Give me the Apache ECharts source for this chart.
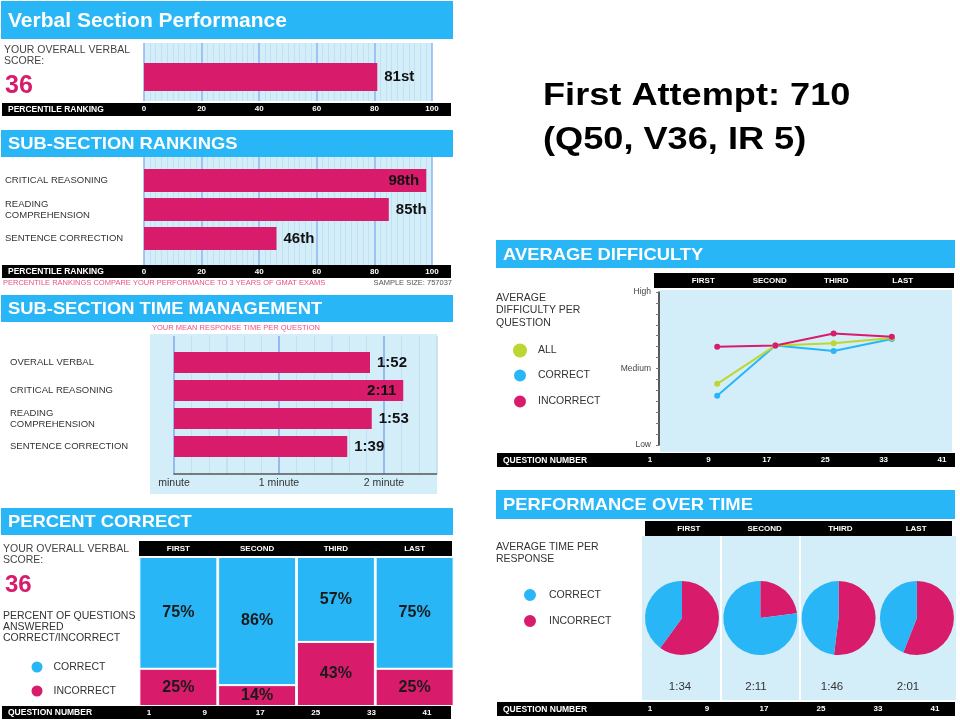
<!DOCTYPE html>
<html>
<head>
<meta charset="utf-8">
<script src="https://cdn.jsdelivr.net/npm/echarts@6/dist/echarts.min.js"></script>
<style>
  html, body { margin: 0; padding: 0; background: #fff; }
  #main { width: 960px; height: 720px; }
</style>
</head>
<body>
<div id="main"></div>
<script>
var PINK = '#d81b6a', BLUE = '#29b6f6', GREEN = '#bdd631', PALE = '#d4eef9';
var FONT = '"Liberation Sans", Arial, sans-serif';

// ---- data ----
var overallScore = 36;
var overallPercentile = [81];
var rankCategories = ['CRITICAL REASONING', 'READING\nCOMPREHENSION', 'SENTENCE CORRECTION'];
var rankPercentile = [98, 85, 46];
var timeCategories = ['OVERALL VERBAL', 'CRITICAL REASONING', 'READING\nCOMPREHENSION', 'SENTENCE CORRECTION'];
var timeSeconds = [112, 131, 113, 99];          // 1:52, 2:11, 1:53, 1:39
var timeAxisLabels = { 0: 'minute', 60: '1 minute', 120: '2 minute' };
var quarters = ['FIRST', 'SECOND', 'THIRD', 'LAST'];
var questionTicks = ['1', '9', '17', '25', '33', '41'];
var pctCorrect = [75, 86, 57, 75];
var pctIncorrect = [25, 14, 43, 25];
var diffAll = [5.6, 9.1, 9.3, 9.8];
var diffCorrect = [4.5, 9.1, 8.6, 9.7];
var diffIncorrect = [9.0, 9.1, 10.2, 9.9];
var diffLabels = { 0: 'Low', 7: 'Medium', 14: 'High' };
var timeShareCorrect = [40, 77, 48, 44];
var timeShareIncorrect = [60, 23, 52, 56];
var avgTime = [94, 131, 106, 121];               // 1:34, 2:11, 1:46, 2:01

function ordinal(n) {
  var m = n % 100;
  if (m >= 11 && m <= 13) return n + 'th';
  return n + ({ 1: 'st', 2: 'nd', 3: 'rd' }[n % 10] || 'th');
}
function mmss(s) {
  return Math.floor(s / 60) + ':' + ('0' + (s % 60)).slice(-2);
}

var chart = echarts.init(document.getElementById('main'));

// ---- graphic helpers (headers, strips, free text) ----
var g = [];
function rect(x, y, w, h, fill, z) {
  g.push({ type: 'rect', z: z == null ? -1 : z, shape: { x: x, y: y, width: w, height: h }, style: { fill: fill } });
}
function label(x, y, str, o) {
  o = o || {};
  g.push({
    type: 'text', x: x, y: y, z: 5, scaleX: o.sx || 1,
    style: {
      text: str, fill: o.color || '#333', fontSize: o.size || 10,
      fontWeight: o.bold ? 'bold' : 'normal', fontFamily: FONT,
      align: o.align || 'left', verticalAlign: o.va || 'middle', lineHeight: o.lh
    }
  });
}
function header(x, y, w, h, str, size, sx) {
  rect(x, y, w, h, BLUE);
  label(x + 7, y + h / 2 + 1, str, { size: size, color: '#fff', bold: true, sx: sx || 1.08 });
}
function strip(x, y, w, h, str) {
  rect(x, y, w, h, '#000');
  if (str) label(x + 6, y + h / 2 + 0.5, str, { size: 8.5, color: '#fff', bold: true });
}

// panel headers
header(1, 1, 452, 38, 'Verbal Section Performance', 20, 1.05);
header(1, 130, 452, 27, 'SUB-SECTION RANKINGS', 17);
header(1, 295, 452, 27, 'SUB-SECTION TIME MANAGEMENT', 17);
header(1, 508, 452, 27, 'PERCENT CORRECT', 17);
header(496, 240, 459, 28, 'AVERAGE DIFFICULTY', 17);
header(496, 490, 459, 29, 'PERFORMANCE OVER TIME', 17);

// black strips
strip(2, 103, 449, 13, 'PERCENTILE RANKING');
strip(2, 265, 449, 13, 'PERCENTILE RANKING');
strip(139, 541, 313, 15);
strip(2, 706, 449, 13, 'QUESTION NUMBER');
strip(654, 273, 300, 15);
strip(497, 453, 458, 14, 'QUESTION NUMBER');
strip(645, 521, 307, 15);
strip(497, 702, 458, 14, 'QUESTION NUMBER');

// plot backgrounds
rect(150, 334, 287, 160, PALE, -2);
rect(660, 290, 292, 162, PALE, -2);
rect(642, 536, 314, 164, PALE, -2);
rect(720, 536, 2, 164, '#fff', -1);
rect(799, 536, 2, 164, '#fff', -1);

// free text
label(4, 45, 'YOUR OVERALL VERBAL\nSCORE:', { size: 10.5, va: 'top', lh: 11, color: '#444' });
label(5, 86, String(overallScore), { size: 25, bold: true, color: PINK });
label(3, 283, 'PERCENTILE RANKINGS COMPARE YOUR PERFORMANCE TO 3 YEARS OF GMAT EXAMS', { size: 7.5, color: '#ec4d88' });
label(452, 283, 'SAMPLE SIZE: 757037', { size: 7.5, align: 'right', color: '#555' });
label(152, 328, 'YOUR MEAN RESPONSE TIME PER QUESTION', { size: 7.5, color: '#ec4d88' });
label(3, 544, 'YOUR OVERALL VERBAL\nSCORE:', { size: 10.5, va: 'top', lh: 11, color: '#444' });
label(5, 585, String(overallScore), { size: 24, bold: true, color: PINK });
label(3, 611, 'PERCENT OF QUESTIONS\nANSWERED\nCORRECT/INCORRECT', { size: 10.5, va: 'top', lh: 11, color: '#333' });
label(496, 292, 'AVERAGE\nDIFFICULTY PER\nQUESTION', { size: 10.5, va: 'top', lh: 12.3, color: '#333' });
label(496, 541, 'AVERAGE TIME PER\nRESPONSE', { size: 10.5, va: 'top', lh: 12, color: '#333' });
label(543, 96, 'First Attempt: 710', { size: 32, bold: true, color: '#000', sx: 1.13 });
label(543, 140, '(Q50, V36, IR 5)', { size: 32, bold: true, color: '#000', sx: 1.13 });
avgTime.forEach(function (t, i) {
  label(680 + i * 76, 687, mmss(t), { size: 11.5, align: 'center', color: '#333' });
});

// ---- axes ----
function frameX(gi, max, interval) {
  return {
    gridIndex: gi, type: 'value', min: 0, max: max, interval: interval,
    axisLine: { show: false }, axisTick: { show: false },
    axisLabel: { color: '#fff', fontWeight: 'bold', fontSize: 8, margin: 7, verticalAlign: 'middle' },
    splitLine: { show: true, lineStyle: { color: '#8db4ef', width: 1.5 } },
    minorTick: { show: false, splitNumber: 10 },
    minorSplitLine: { show: true, lineStyle: { color: '#bddcef', width: 0.8 } }
  };
}
function stripX(gi, data, top, margin, gap) {
  return {
    gridIndex: gi, type: 'category', data: data, position: top ? 'top' : 'bottom', boundaryGap: gap,
    axisLine: { show: false }, axisTick: { show: false },
    axisLabel: { color: '#fff', fontWeight: 'bold', fontSize: 8, margin: margin, verticalAlign: 'middle', interval: 0 }
  };
}
function catY(gi, data, margin) {
  return {
    gridIndex: gi, type: 'category', data: data, inverse: true,
    axisLine: { show: false }, axisTick: { show: false },
    axisLabel: margin ? { color: '#333', fontSize: 9.5, align: 'left', margin: margin, lineHeight: 11 } : { show: false }
  };
}

var timeFrame = frameX(4, 150, 30);
timeFrame.axisLine = { show: true, lineStyle: { color: '#555', width: 1.5 } };
timeFrame.axisLabel = {
  color: '#333', fontSize: 10.5, margin: 9, verticalAlign: 'middle',
  formatter: function (v) { return timeAxisLabels[v] || ''; }
};
timeFrame.splitLine = { show: true, lineStyle: { color: ['#7fa9ea', '#bddcef'], width: 1.5 } };
timeFrame.minorTick = { show: false, splitNumber: 3 };

var xAxes = [
  frameX(0, 100, 20),
  { gridIndex: 1, type: 'value', min: 0, max: 100, show: false },
  frameX(2, 100, 20),
  { gridIndex: 3, type: 'value', min: 0, max: 100, show: false },
  timeFrame,
  { gridIndex: 5, type: 'value', min: 0, max: 150, show: false },
  stripX(6, quarters, true, 8.5, true),
  stripX(7, questionTicks, false, 6.5, false),
  { gridIndex: 8, type: 'value', min: 0, max: 5, show: false },
  stripX(9, quarters, true, 9.5, true),
  stripX(10, questionTicks, false, 7, false),
  stripX(11, quarters, true, 7.5, true),
  stripX(12, questionTicks, false, 7, false)
];
xAxes[0].axisLabel.margin = 8;
xAxes[2].axisLabel.margin = 6.5;

var yAxes = [
  { gridIndex: 0, type: 'value', min: 0, max: 1, show: false },
  catY(1, ['VERBAL']),
  { gridIndex: 2, type: 'value', min: 0, max: 1, show: false },
  catY(3, rankCategories, 139),
  { gridIndex: 4, type: 'value', min: 0, max: 1, show: false },
  catY(5, timeCategories, 164),
  { gridIndex: 6, type: 'value', min: 0, max: 100, show: false },
  { gridIndex: 7, type: 'value', show: false },
  {
    gridIndex: 8, type: 'value', min: 0, max: 14, interval: 1,
    axisLine: { show: true, lineStyle: { color: '#222', width: 1.5 } },
    axisTick: { show: true, length: 3, lineStyle: { color: '#777' } },
    splitLine: { show: false },
    axisLabel: { color: '#444', fontSize: 8.5, margin: 8, formatter: function (v) { return diffLabels[v] || ''; } }
  },
  { gridIndex: 9, type: 'value', show: false },
  { gridIndex: 10, type: 'value', show: false },
  { gridIndex: 11, type: 'value', show: false },
  { gridIndex: 12, type: 'value', show: false }
];

var grids = [
  { left: 144, top: 43, width: 288, height: 58, show: true, backgroundColor: PALE, borderWidth: 0 },
  { left: 144, top: 63, width: 288, height: 28 },
  { left: 144, top: 157, width: 288, height: 108, show: true, backgroundColor: PALE, borderWidth: 0 },
  { left: 144, top: 166, width: 288, height: 87 },
  { left: 174, top: 336, width: 262.5, height: 138 },
  { left: 174, top: 348.5, width: 262.5, height: 112 },
  { left: 139, top: 557, width: 315, height: 149 },
  { left: 149, top: 705, width: 278, height: 1 },
  { left: 659, top: 292, width: 291, height: 153 },
  { left: 670, top: 290, width: 266, height: 1 },
  { left: 650, top: 452, width: 292, height: 1 },
  { left: 651, top: 536, width: 303, height: 1 },
  { left: 650, top: 701, width: 285, height: 1 }
];

// ---- series ----
function hbar(idx, values, max, fmt, width) {
  return {
    type: 'bar', xAxisIndex: idx, yAxisIndex: idx, barWidth: width, silent: true,
    itemStyle: { color: PINK },
    data: values.map(function (v) {
      return { value: v, label: { position: v / max > 0.86 ? 'insideRight' : 'right' } };
    }),
    label: {
      show: true, fontWeight: 'bold', fontSize: 15, color: '#111', distance: 7,
      formatter: function (p) { return fmt(p.value); }
    }
  };
}
var pctLabel = {
  show: true, position: 'inside', formatter: '{c}%',
  fontWeight: 'bold', fontSize: 16, color: '#1a1a1a'
};
function diffLine(name, values, color) {
  return {
    type: 'line', name: name, xAxisIndex: 8, yAxisIndex: 8,
    symbol: 'circle', symbolSize: 6, silent: true,
    lineStyle: { color: color, width: 2 }, itemStyle: { color: color },
    data: values.map(function (v, i) { return [i + 1, v]; })
  };
}

var series = [
  hbar(1, overallPercentile, 100, ordinal, 28),
  hbar(3, rankPercentile, 100, ordinal, 23),
  hbar(5, timeSeconds, 150, mmss, 21),
  {
    type: 'bar', name: 'INCORRECT', xAxisIndex: 6, yAxisIndex: 6, stack: 'pc', barWidth: 78,
    itemStyle: { color: PINK, borderColor: '#fff', borderWidth: 1 }, label: pctLabel, data: pctIncorrect, silent: true
  },
  {
    type: 'bar', name: 'CORRECT', xAxisIndex: 6, yAxisIndex: 6, stack: 'pc', barWidth: 78,
    itemStyle: { color: BLUE, borderColor: '#fff', borderWidth: 1 }, label: pctLabel, data: pctCorrect, silent: true
  },
  diffLine('CORRECT', diffCorrect, BLUE),
  diffLine('ALL', diffAll, GREEN),
  diffLine('INCORRECT', diffIncorrect, PINK)
];
timeShareCorrect.forEach(function (c, i) {
  series.push({
    type: 'pie', center: [682 + i * 78.3, 618], radius: 37, startAngle: 90, clockwise: true,
    silent: true, label: { show: false }, labelLine: { show: false },
    itemStyle: { borderWidth: 0 },
    data: [
      { name: 'INCORRECT', value: timeShareIncorrect[i], itemStyle: { color: PINK } },
      { name: 'CORRECT', value: c, itemStyle: { color: BLUE } }
    ]
  });
});

function legend(names, left, top, size, gap, pad) {
  return {
    data: names, left: left, top: top, orient: 'vertical', icon: 'circle',
    itemWidth: size, itemHeight: size, itemGap: gap, padding: 0, selectedMode: false,
    textStyle: { fontSize: 10.5, color: '#333', fontFamily: FONT, padding: [0, 0, 0, pad] }
  };
}

chart.setOption({
  animation: false,
  textStyle: { fontFamily: FONT },
  grid: grids,
  xAxis: xAxes,
  yAxis: yAxes,
  legend: [
    legend(['CORRECT', 'INCORRECT'], 29.5, 659.5, 13, 9, 5),
    legend(['ALL', 'CORRECT', 'INCORRECT'], 512, 343.5, 14, 10, 6),
    legend(['CORRECT', 'INCORRECT'], 522, 587, 14, 10, 7)
  ],
  series: series,
  graphic: g
});
</script>
</body>
</html>
